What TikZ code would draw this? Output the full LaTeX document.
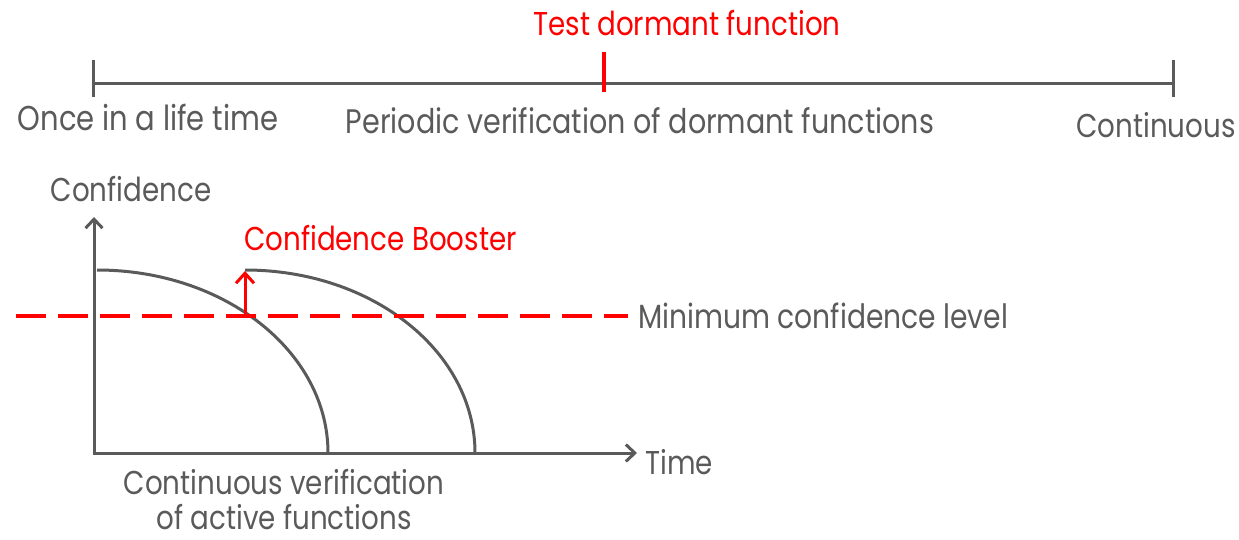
\documentclass[tikz,border=0pt]{standalone}
\usepackage{fontspec}
\setmainfont{Poppins}[FakeStretch=0.84]
\usetikzlibrary{arrows.meta}
\definecolor{inkgray}{HTML}{5A5A5A}
\definecolor{alertred}{HTML}{FF0000}
\begin{document}
\begin{tikzpicture}[x=1pt,y=-1pt,
  lbl/.style={anchor=base, inner sep=0pt, text=inkgray, font=\fontsize{33}{40}\selectfont},
  redlbl/.style={lbl, text=alertred},
  grayline/.style={draw=inkgray, line width=3pt},
  redline/.style={draw=alertred, line width=3.5pt},
  axisarrow/.style={grayline, -{Straight Barb[length=9pt,width=17pt]}},
  boostarrow/.style={draw=alertred, line width=3pt, -{Straight Barb[length=10pt,width=18pt]}},
  dashline/.style={redline, dash pattern=on 30pt off 12pt}]
\useasboundingbox (0,0) rectangle (1239,540);

% ---- timeline of verification frequency ----
\coordinate (tl) at (93,84);
\coordinate (tr) at (1173,84);
\coordinate (tm) at (604,84);
\draw[grayline] (tl) -- (tr);
\draw[grayline] ([yshift=24pt]tl) -- ([yshift=-13pt]tl);
\draw[grayline] ([yshift=24pt]tr) -- ([yshift=-13pt]tr);
\draw[redline] ([yshift=32pt]tm) -- ([yshift=-8pt]tm);

\node[redlbl] (test) at (687,36) {Test dormant function};
\node[lbl, font=\fontsize{34.5}{40}\selectfont] (once) at (148,131) {Once in a life time};
\node[lbl, font=\fontsize{34}{40}\selectfont] (periodic) at (640,134) {Periodic verification of dormant functions};
\node[lbl] (cont) at (1156,138) {Continuous};

% ---- confidence over time ----
\coordinate (origin) at (94,453);
\coordinate (ytop) at (94,217);
\coordinate (xend) at (637,453);
\draw[axisarrow] (origin) -- (ytop);
\draw[axisarrow] ([xshift=-1.5pt]origin) -- (xend);

\node[lbl] (conf) at (131,201) {Confidence};
\node[lbl, anchor=base west] (time) at (645,474) {Time};

% decay of confidence: quarter ellipses
\coordinate (a0) at (97,270);
\coordinate (a1) at (328,453);
\coordinate (b0) at (245,270);
\coordinate (b1) at (475,453);
\draw[grayline] (a0) .. controls ([xshift=128pt]a0) and ([yshift=101pt]a1) .. (a1);
\draw[grayline] (b0) .. controls ([xshift=128pt]b0) and ([yshift=101pt]b1) .. (b1);

% minimum confidence level
\coordinate (d0) at (16,316);
\coordinate (d1) at (628,316);
\draw[dashline] (d0) -- (d1);
\node[lbl, anchor=base west, font=\fontsize{33.5}{40}\selectfont] (minlvl) at (638,328) {Minimum confidence level};

% confidence booster
\coordinate (bst0) at (245,316);
\coordinate (bst1) at (245,271);
\draw[boostarrow] (bst0) -- (bst1);
\node[redlbl, anchor=base west] (booster) at (244,250) {Confidence Booster};

\node[lbl] (active) at (284,494) {Continuous verification};
\node[lbl] (active2) at (284,529) {of active functions};
\end{tikzpicture}
\end{document}
